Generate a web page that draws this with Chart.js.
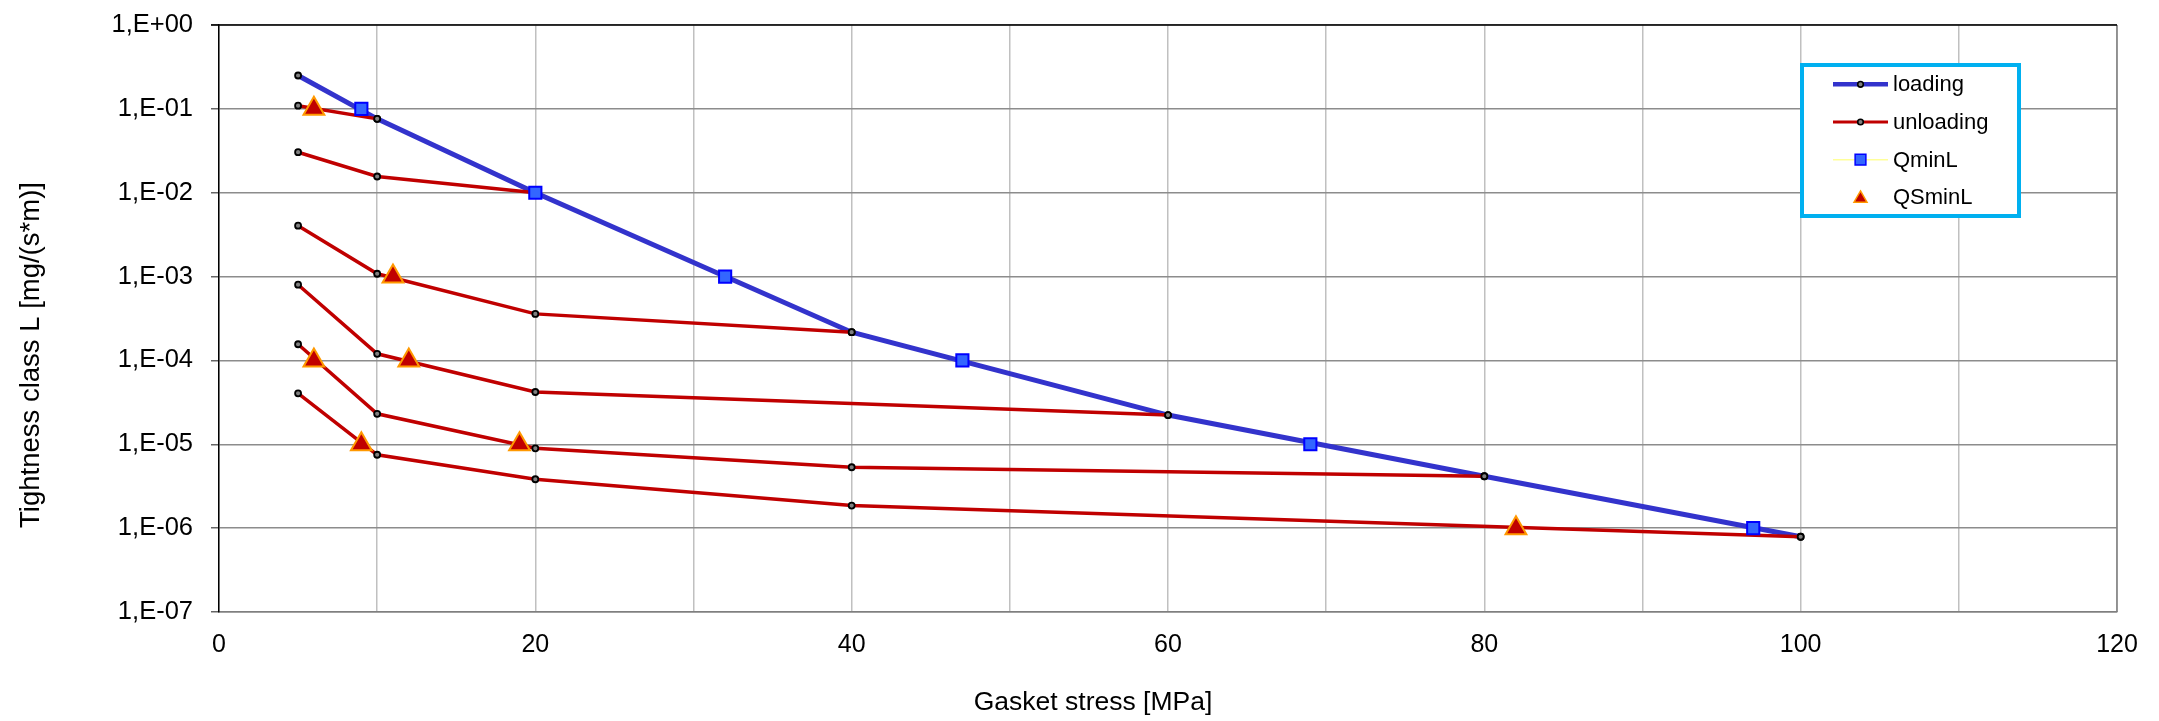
<!DOCTYPE html>
<html><head><meta charset="utf-8">
<script src="https://cdn.jsdelivr.net/npm/chart.js@4/dist/chart.umd.min.js"></script>
<style>html,body{margin:0;padding:0;background:#fff}#wrap{width:2159px;height:721px;position:relative}</style>
</head><body><div id="wrap"><canvas id="c"></canvas></div>
<script>
// ---- data ----
const loadingStress = [5, 10, 20, 40, 60, 80, 100];
const loadingLeak   = [0.25, 0.076, 0.01, 2.17e-4, 2.23e-5, 4.16e-6, 7.9e-7];

const unload10Stress  = [10, 5];
const unload10Leak    = [0.076, 0.109];
const unload20Stress  = [20, 10, 5];
const unload20Leak    = [0.01, 0.0156, 0.0304];
const unload40Stress  = [40, 20, 10, 5];
const unload40Leak    = [2.17e-4, 3.59e-4, 1.08e-3, 4.05e-3];
const unload60Stress  = [60, 20, 10, 5];
const unload60Leak    = [2.23e-5, 4.2e-5, 1.2e-4, 8.0e-4];
const unload80Stress  = [80, 40, 20, 10, 5];
const unload80Leak    = [4.16e-6, 5.32e-6, 8.95e-6, 2.31e-5, 1.56e-4];
const unload100Stress = [100, 40, 20, 10, 5];
const unload100Leak   = [7.9e-7, 1.86e-6, 3.83e-6, 7.5e-6, 4.05e-5];

const qminStress  = [9, 20, 32, 47, 69, 97];
const qminLeak    = [1e-1, 1e-2, 1e-3, 1e-4, 1e-5, 1e-6];
const qsminStress = [6, 11, 6, 12, 9, 19, 82];
const qsminLeak   = [1e-1, 1e-3, 1e-4, 1e-4, 1e-5, 1e-5, 1e-6];

const seriesLabels = ['loading', 'unloading', 'QminL', 'QSminL'];
const xTickValues = [0, 10, 20, 30, 40, 50, 60, 70, 80, 90, 100, 110, 120];
const xTickLabels = ['0', '', '20', '', '40', '', '60', '', '80', '', '100', '', '120'];
const yTickValues = [1e-7, 1e-6, 1e-5, 1e-4, 1e-3, 1e-2, 1e-1, 1];
const yTickLabels = ['1,E-07', '1,E-06', '1,E-05', '1,E-04', '1,E-03', '1,E-02', '1,E-01', '1,E+00'];
const xTitle = 'Gasket stress [MPa]';
const yTitle = 'Tightness class L [mg/(s*m)]';

// ---- build library structures ----
const pts = (xs, ys) => xs.map((x, i) => ({x: x, y: ys[i]}));
const unloadGroups = [
  [unload10Stress, unload10Leak], [unload20Stress, unload20Leak], [unload40Stress, unload40Leak],
  [unload60Stress, unload60Leak], [unload80Stress, unload80Leak], [unload100Stress, unload100Leak]
];
const unloadData = [];
unloadGroups.forEach((g, gi) => {
  if (gi > 0) unloadData.push({x: g[0][0], y: null});
  pts(g[0], g[1]).forEach(p => unloadData.push(p));
});

const FONT = 'Liberation Sans, Arial, sans-serif';

const frameStyle = {
  id: 'frameStyle',
  beforeDatasetsDraw(chart) {
    const a = chart.chartArea, ctx = chart.ctx;
    ctx.save();
    ctx.lineWidth = 1.5;
    ctx.strokeStyle = '#7F7F7F';
    ctx.beginPath(); ctx.moveTo(a.right, a.top); ctx.lineTo(a.right, a.bottom); ctx.stroke();
    ctx.strokeStyle = '#000';
    ctx.beginPath(); ctx.moveTo(a.left - 8, a.top); ctx.lineTo(a.right, a.top); ctx.stroke();
    ctx.restore();
  }
};

const axisTitles = {
  id: 'axisTitles',
  afterDraw(chart, args, o) {
    const ctx = chart.ctx;
    ctx.save();
    ctx.fillStyle = '#000';
    ctx.textAlign = 'center';
    ctx.textBaseline = 'middle';
    ctx.font = o.x.size + 'px ' + FONT;
    ctx.fillText(o.x.text, o.x.cx, o.x.cy);
    ctx.font = o.y.size + 'px ' + FONT;
    ctx.translate(o.y.cx, o.y.cy);
    ctx.rotate(-Math.PI / 2);
    ctx.fillText(o.y.text, 0, 0);
    ctx.restore();
  }
};

function marker(ctx, style, x, y, r, fill, stroke, bw) {
  ctx.save();
  ctx.fillStyle = fill; ctx.strokeStyle = stroke; ctx.lineWidth = bw;
  ctx.beginPath();
  if (style === 'circle') {
    ctx.arc(x, y, r, 0, Math.PI * 2);
  } else if (style === 'rect') {
    const s = r * Math.SQRT1_2;
    ctx.rect(x - s, y - s, 2 * s, 2 * s);
  } else if (style === 'triangle') {
    let a = 0;
    ctx.moveTo(x + Math.sin(a) * r, y - Math.cos(a) * r);
    a += 2 * Math.PI / 3; ctx.lineTo(x + Math.sin(a) * r, y - Math.cos(a) * r);
    a += 2 * Math.PI / 3; ctx.lineTo(x + Math.sin(a) * r, y - Math.cos(a) * r);
    ctx.closePath();
  }
  ctx.fill();
  if (bw > 0) ctx.stroke();
  ctx.restore();
}

const boxLegend = {
  id: 'boxLegend',
  afterDraw(chart, args, o) {
    const ctx = chart.ctx;
    ctx.save();
    ctx.fillStyle = '#fff';
    ctx.fillRect(o.left, o.top, o.width, o.height);
    ctx.strokeStyle = o.borderColor; ctx.lineWidth = o.borderWidth;
    ctx.strokeRect(o.left, o.top, o.width, o.height);
    chart.data.datasets.forEach((ds, i) => {
      const y = o.firstRow + i * o.rowGap;
      const lx0 = o.left + o.lineStart, lx1 = o.left + o.lineEnd, mx = (lx0 + lx1) / 2;
      if (ds.legendLine) {
        ctx.strokeStyle = ds.legendLine.color; ctx.lineWidth = ds.legendLine.width;
        ctx.beginPath(); ctx.moveTo(lx0, y); ctx.lineTo(lx1, y); ctx.stroke();
      }
      const lm = ds.legendMarker;
      marker(ctx, ds.pointStyle, mx, y + (lm.dy || 0), lm.r, ds.pointBackgroundColor, ds.pointBorderColor, lm.bw);
      ctx.fillStyle = '#000';
      ctx.font = o.fontSize + 'px ' + FONT;
      ctx.textAlign = 'left'; ctx.textBaseline = 'middle';
      ctx.fillText(ds.label, o.left + o.textStart, y + 1);
    });
    ctx.restore();
  }
};

new Chart(document.getElementById('c'), {
  type: 'line',
  data: {
    datasets: [
      {
        label: seriesLabels[0], data: pts(loadingStress, loadingLeak), order: 3,
        borderColor: '#3333CC', borderWidth: 5, showLine: true,
        pointStyle: 'circle', pointRadius: 3, pointBorderWidth: 1.8,
        pointBackgroundColor: '#808080', pointBorderColor: '#000',
        legendLine: {color: '#3333CC', width: 4.5}, legendMarker: {r: 2.8, bw: 1.6}
      },
      {
        label: seriesLabels[1], data: unloadData, order: 2, spanGaps: false,
        borderColor: '#C00000', borderWidth: 3.5, showLine: true,
        pointStyle: 'circle', pointRadius: 3, pointBorderWidth: 1.8,
        pointBackgroundColor: '#808080', pointBorderColor: '#000',
        legendLine: {color: '#C00000', width: 3.2}, legendMarker: {r: 2.8, bw: 1.6}
      },
      {
        label: seriesLabels[2], data: pts(qminStress, qminLeak), order: 0, showLine: false,
        borderColor: '#FFFF99', borderWidth: 1.5,
        pointStyle: 'rect', pointRadius: 8.6, pointBorderWidth: 2,
        pointBackgroundColor: '#3366FF', pointBorderColor: '#0000FF',
        legendLine: {color: '#FFFF99', width: 1.5}, legendMarker: {r: 7.6, bw: 1.5}
      },
      {
        label: seriesLabels[3], data: pts(qsminStress, qsminLeak), order: 1, showLine: false,
        borderColor: '#FF9900',
        pointStyle: 'triangle', pointRadius: 12, pointBorderWidth: 2,
        pointBackgroundColor: '#C00000', pointBorderColor: '#FF9900',
        legendLine: null, legendMarker: {r: 7.5, bw: 1.5, dy: 1}
      }
    ]
  },
  options: {
    responsive: true, maintainAspectRatio: false, animation: false,
    devicePixelRatio: 1,
    layout: {padding: {top: 25, right: 42, bottom: 0, left: 0}},
    plugins: {
      legend: {display: false}, tooltip: {enabled: false}, title: {display: false},
      axisTitles: {x: {text: xTitle, cx: 1093, cy: 703, size: 26.5}, y: {text: yTitle, cx: 31, cy: 355, size: 27.5}},
      boxLegend: {left: 1802, top: 65, width: 217, height: 151, borderColor: '#00B0F0', borderWidth: 4,
        firstRow: 84.3, rowGap: 37.7, lineStart: 31, lineEnd: 86, textStart: 91, fontSize: 22}
    },
    scales: {
      x: {
        type: 'linear', min: 0, max: 120,
        afterBuildTicks: s => { s.ticks = xTickValues.map(v => ({value: v})); },
        afterFit: s => { s.height = 109; s.paddingLeft = 0; s.paddingRight = 0; },
        ticks: {autoSkip: false, maxRotation: 0, padding: 18, color: '#000',
          font: {family: FONT, size: 25}, callback: (v, i) => xTickLabels[i]},
        grid: {color: '#C0C0C0', lineWidth: 1.5, drawTicks: false},
        border: {color: '#7F7F7F', width: 1.5}
      },
      y: {
        type: 'logarithmic', min: 1e-7, max: 1,
        afterBuildTicks: s => { s.ticks = yTickValues.map(v => ({value: v})); },
        afterFit: s => { s.width = 219; s.paddingTop = 0; s.paddingBottom = 0; },
        ticks: {autoSkip: false, padding: 18, color: '#000',
          font: {family: FONT, size: 25.5}, callback: (v, i) => yTickLabels[i]},
        grid: {color: '#8C8C8C', lineWidth: 1.5, drawTicks: true, tickLength: 8, tickColor: '#666'},
        border: {color: '#000', width: 1.5}
      }
    }
  },
  plugins: [frameStyle, axisTitles, boxLegend]
});
</script></body></html>
